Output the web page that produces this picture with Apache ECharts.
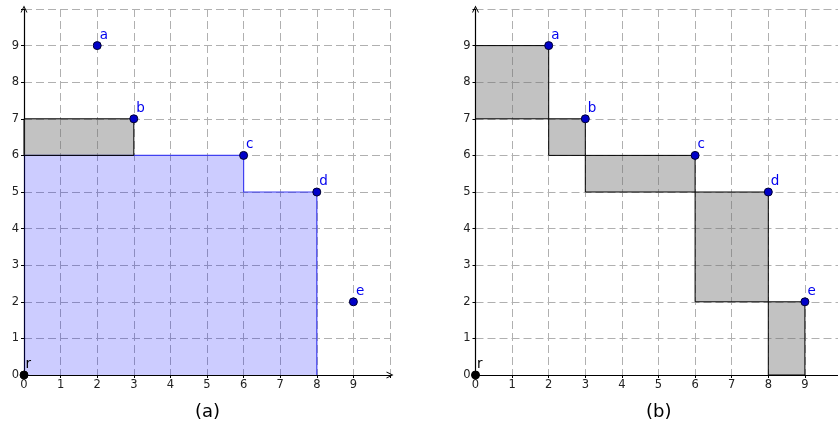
<!DOCTYPE html>
<html><head><meta charset="utf-8">
<script src="https://cdn.jsdelivr.net/npm/echarts@6/dist/echarts.min.js"></script>
<style>html,body{margin:0;padding:0;background:#fff}#c{width:838px;height:428px}</style>
</head><body><div id="c"></div>
<script>
// ---- data ----
var pointNames = ['a', 'b', 'c', 'd', 'e'];
var pointX = [2, 3, 6, 8, 9];
var pointY = [9, 7, 6, 5, 2];
var origin = [0, 0];
var originName = 'r';
var tickLabels = ['0','1','2','3','4','5','6','7','8','9'];
var axisMax = 10;
// panel (a): blue dominated region outline and gray rectangle [x1,y1,x2,y2]
var blueRegionX = [0, 0, 6, 6, 8, 8];
var blueRegionY = [0, 6, 6, 5, 5, 0];
var leftRects = [[0, 6, 3, 7]];
// panel (b): gray staircase rectangles
var rightRects = [[0, 7, 2, 9], [2, 6, 3, 7], [3, 5, 6, 6], [6, 2, 8, 5], [8, 0, 9, 2]];
var captions = ['(a)', '(b)'];

var FONT = 'DejaVu Sans';
var arrowPath = 'path://M0,10 L5,0 L10,10 L8.6,10 L5,2.8 L1.4,10 Z';

function makeAxis(gi, margin) {
  return {
    type: 'value', gridIndex: gi, min: 0, max: axisMax, interval: 1,
    axisLine: { show: true, onZero: false, lineStyle: { color: '#000', width: 1.2 },
      symbol: ['none', arrowPath], symbolSize: [10, 7] },
    axisTick: { show: true, length: 3, lineStyle: { color: '#000' } },
    axisLabel: { show: true, margin: margin, color: '#222', fontFamily: FONT, fontSize: 11.5,
      formatter: function (v) { return v < tickLabels.length ? tickLabels[v] : ''; } },
    splitLine: { show: true, lineStyle: { color: '#b0b0b0', type: [8, 4], width: 1 } }
  };
}

function rectSeries(gi, rects) {
  return {
    type: 'custom', xAxisIndex: gi, yAxisIndex: gi, z: 3, silent: true,
    data: rects,
    renderItem: function (params, api) {
      var p1 = api.coord([api.value(0), api.value(1)]);
      var p2 = api.coord([api.value(2), api.value(3)]);
      return {
        type: 'rect',
        shape: { x: Math.min(p1[0], p2[0]), y: Math.min(p1[1], p2[1]),
                 width: Math.abs(p2[0] - p1[0]), height: Math.abs(p2[1] - p1[1]) },
        style: { fill: 'rgba(110,110,110,0.42)', stroke: '#000', lineWidth: 1 }
      };
    }
  };
}

var blueData = blueRegionX.map(function (x, i) { return [x, blueRegionY[i]]; });
var blueSeries = {
  type: 'custom', xAxisIndex: 0, yAxisIndex: 0, z: 2, silent: true,
  data: [0],
  renderItem: function (params, api) {
    var pts = blueData.map(function (p) { return api.coord(p); });
    return {
      type: 'group',
      children: [
        { type: 'polygon', shape: { points: pts }, style: { fill: 'rgba(0,0,255,0.2)', stroke: null } },
        { type: 'polyline', shape: { points: pts.slice(1) }, style: { fill: null, stroke: '#4040f0', lineWidth: 1.2 } }
      ]
    };
  }
};

function pointSeries(gi) {
  var data = pointNames.map(function (n, i) { return { name: n, value: [pointX[i], pointY[i]] }; });
  return [{
    type: 'scatter', xAxisIndex: gi, yAxisIndex: gi, z: 10, silent: true,
    symbolSize: 8,
    itemStyle: { color: '#0000c8', borderColor: '#000030', borderWidth: 1, opacity: 1 },
    label: { show: true, formatter: '{b}', position: [7, -6], align: 'left', verticalAlign: 'middle',
      color: '#0000ee', fontFamily: FONT, fontSize: 13.5 },
    data: data
  }, {
    type: 'scatter', xAxisIndex: gi, yAxisIndex: gi, z: 10, silent: true,
    symbolSize: 8,
    itemStyle: { color: '#000', borderColor: '#000', borderWidth: 1, opacity: 1 },
    label: { show: true, formatter: '{b}', position: [6, -6], align: 'left', verticalAlign: 'middle',
      color: '#000', fontFamily: FONT, fontSize: 13.5 },
    data: [{ name: originName, value: origin }]
  }];
}

var chart = echarts.init(document.getElementById('c'), null, { renderer: 'canvas' });
var series = [blueSeries, rectSeries(0, leftRects), rectSeries(1, rightRects)]
  .concat(pointSeries(0)).concat(pointSeries(1));

chart.setOption({
  animation: false,
  backgroundColor: '#fff',
  grid: [
    { left: 24, top: 9, width: 366, height: 366, outerBoundsMode: 'none', containLabel: false },
    { left: 475.5, top: 9, width: 366, height: 366, outerBoundsMode: 'none', containLabel: false }
  ],
  xAxis: [makeAxis(0, 4), makeAxis(1, 4)],
  yAxis: [makeAxis(0, 5), makeAxis(1, 5)],
  series: series,
  graphic: [
    { type: 'text', left: 209 - 14, top: 403, style: { text: captions[0], font: '18px "DejaVu Sans"', fill: '#000' } },
    { type: 'text', left: 660 - 14, top: 403, style: { text: captions[1], font: '18px "DejaVu Sans"', fill: '#000' } }
  ]
});
</script></body></html>
